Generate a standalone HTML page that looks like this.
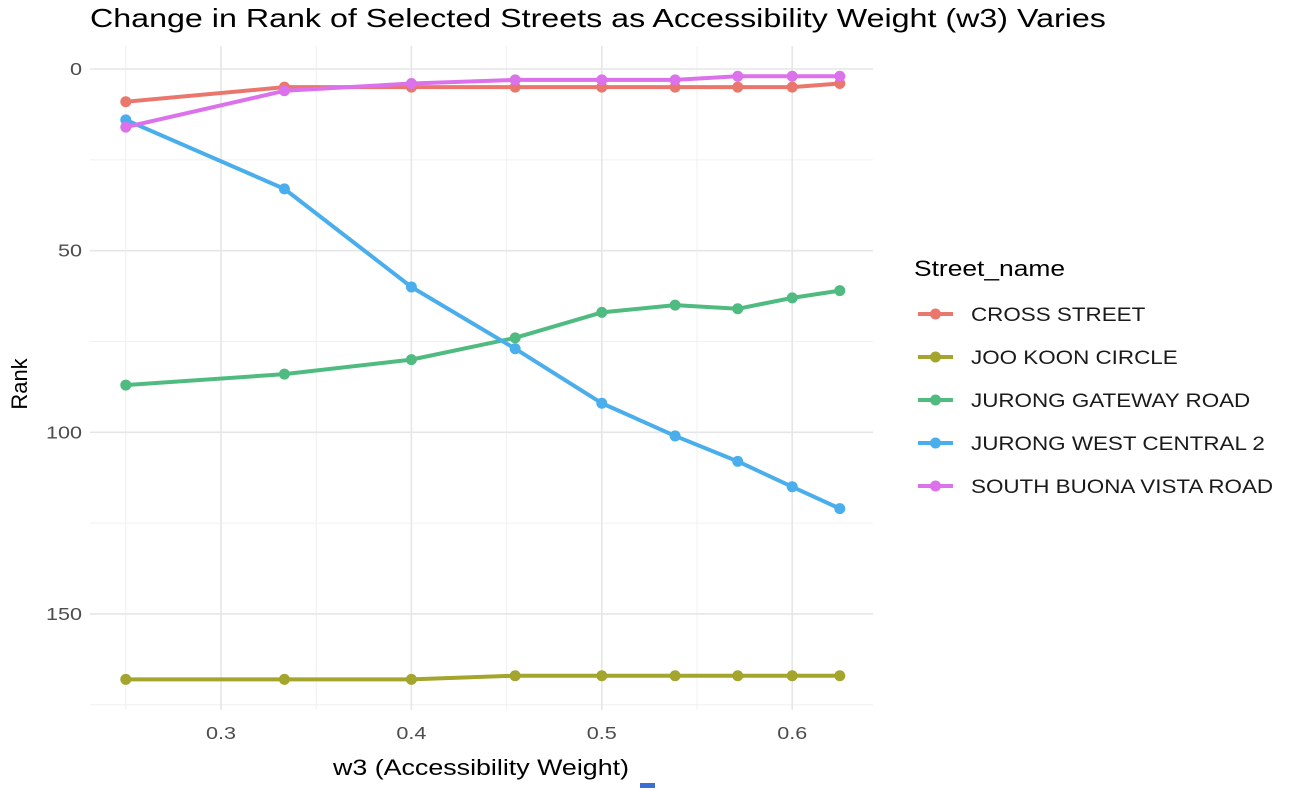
<!DOCTYPE html>
<html><head><meta charset="utf-8"><style>
body{margin:0;background:#fff;width:1290px;height:788px;overflow:hidden;font-family:"Liberation Sans",sans-serif}
</style></head><body>
<svg id="chart" width="1290" height="788" xmlns="http://www.w3.org/2000/svg" font-family="Liberation Sans, sans-serif">
<text transform="translate(90,27) scale(1.24,1)" font-size="26" fill="#000">Change in Rank of Selected Streets as Accessibility Weight (w3) Varies</text>
<g id="grid"></g><g id="series"></g><g id="axes"></g>
<text transform="translate(481,775) scale(1.22,1)" font-size="22" text-anchor="middle" fill="#000">w3 (Accessibility Weight)</text>
<text transform="translate(27,384) rotate(-90)" font-size="22" text-anchor="middle" fill="#000">Rank</text>
<g id="legend"><text transform="translate(914,276) scale(1.2,1)" font-size="22" fill="#000">Street_name</text></g>
<rect x="640" y="783" width="15" height="5" fill="#3b6fd4"/>
</svg>
<script>
const xValues=[0.25,0.3333,0.4,0.4545,0.5,0.5385,0.5714,0.6,0.625];
const seriesNames=["CROSS STREET","JOO KOON CIRCLE","JURONG GATEWAY ROAD","JURONG WEST CENTRAL 2","SOUTH BUONA VISTA ROAD"];
const crossStreet=[9,5,5,5,5,5,5,5,4];
const jooKoon=[168,168,168,167,167,167,167,167,167];
const jurongGateway=[87,84,80,74,67,65,66,63,61];
const jurongWest=[14,33,60,77,92,101,108,115,121];
const southBuona=[16,6,4,3,3,3,2,2,2];
const xTicks=[0.3,0.4,0.5,0.6];
const xMinor=[0.25,0.35,0.45,0.55];
const yTicks=[0,50,100,150];
const yMinor=[25,75,125,175];
const colors=["#e9776d","#a3a52c","#4fbb80","#4aaeec","#dc71ec"];
const allSeries=[crossStreet,jooKoon,jurongGateway,jurongWest,southBuona];
const NS="http://www.w3.org/2000/svg";
const X=v=>221+(v-0.3)*1904;
const Y=v=>69+v*3.633;
const L=90,R=873,T=46,B=710;
function mk(t,a,p){const e=document.createElementNS(NS,t);for(const k in a)e.setAttribute(k,a[k]);p.appendChild(e);return e;}
const g=document.getElementById('grid');
xMinor.forEach(v=>{const e=mk('line',{x1:X(v),x2:X(v),y1:T,y2:B,stroke:'#f0f0f0','stroke-width':1},g);

});
yMinor.forEach(v=>{const e=mk('line',{x1:L,x2:R,y1:Y(v),y2:Y(v),stroke:'#f0f0f0','stroke-width':1},g);

});
const ax=document.getElementById('axes');
xTicks.forEach(v=>{const e=mk('line',{x1:X(v),x2:X(v),y1:T,y2:B,stroke:'#e6e6e6','stroke-width':1.6},g);


const t=mk('text',{transform:'translate('+X(v)+',739) scale(1.2,1)','font-size':18,'text-anchor':'middle',fill:'#4d4d4d'},ax);t.textContent=v.toFixed(1);

});
yTicks.forEach(v=>{const e=mk('line',{x1:L,x2:R,y1:Y(v),y2:Y(v),stroke:'#e6e6e6','stroke-width':1.6},g);


const t=mk('text',{transform:'translate(82,'+(Y(v)+6)+') scale(1.2,1)','font-size':18,'text-anchor':'end',fill:'#4d4d4d'},ax);t.textContent=v;

});
const s=document.getElementById('series');
allSeries.forEach((d,i)=>{
 const pts=d.map((v,j)=>X(xValues[j])+','+Y(v)).join(' ');
 const pl=mk('polyline',{points:pts,fill:'none',stroke:colors[i],'stroke-width':4,'stroke-linejoin':'round'},s);
 
 
 d.forEach((v,j)=>{const c=mk('circle',{cx:X(xValues[j]),cy:Y(v),r:5.5,fill:colors[i]},s);
 
 });
});
const lg=document.getElementById('legend');
seriesNames.forEach((n,i)=>{const y=314+i*43;
 const ln=mk('line',{x1:918,x2:953,y1:y,y2:y,stroke:colors[i],'stroke-width':4},lg);
 
 
 const c=mk('circle',{cx:935.5,cy:y,r:5.5,fill:colors[i]},lg);
 
 
 const t=mk('text',{transform:'translate(971,'+(y+7)+') scale(1.18,1)','font-size':19,fill:'#1a1a1a'},lg);t.textContent=n;
 
 });
</script>
</body></html>
